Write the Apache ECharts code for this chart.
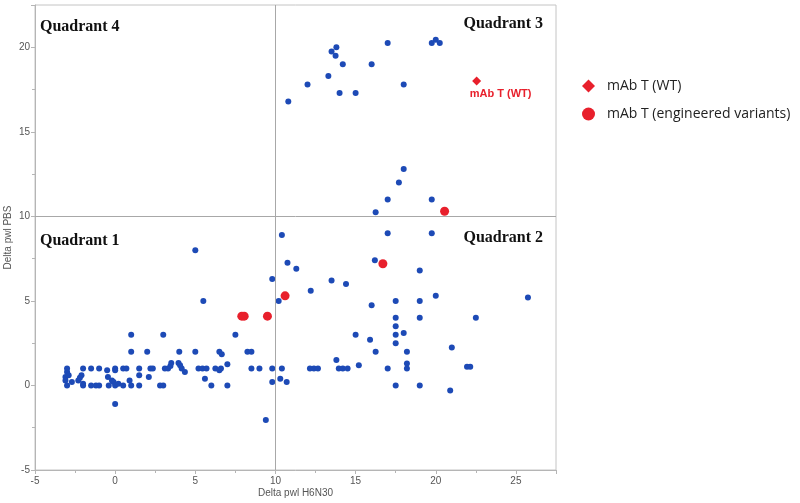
<!DOCTYPE html>
<html>
<head>
<meta charset="utf-8">
<script src="https://cdn.jsdelivr.net/npm/echarts@6/dist/echarts.min.js"></script>
<style>html,body{margin:0;padding:0;background:#fff;}#chart{width:800px;height:503px;}</style>
</head>
<body>
<div id="chart"></div>
<script>
// ---- data (Delta pwl H6N30, Delta pwl PBS) ----
const xTicks = [-5, 0, 5, 10, 15, 20, 25];
const yTicks = [-5, 0, 5, 10, 15, 20];
const quadrantNames = ['Quadrant 1', 'Quadrant 2', 'Quadrant 3', 'Quadrant 4'];
const quadrantSplit = [10, 10];

const quadrant1Points = [
  [-3, 1.0], [-3, 0.8], [-3.1, 0.5], [-3.1, 0.3], [-3, 0], [-2.9, 0.6], [-2.7, 0.2],
  [-2.3, 0.3], [-2.2, 0.45], [-2.1, 0.6], [-2, 1.0], [-2, 0.1], [-2, 0],
  [-1.5, 1.0], [-1.5, 0], [-1.2, 0], [-1, 1.0], [-1, 0],
  [-0.5, 0.9], [-0.45, 0.5], [-0.4, 0], [-0.2, 0.3], [-0.1, 0.2], [0, 1.0], [0, 0.9], [0, 0], [0, -1.1], [0.2, 0.1],
  [0.5, 1.0], [0.7, 1.0], [0.5, 0], [0.9, 0.3], [1, 3], [1, 2], [1, 0], [1.5, 1.0], [1.5, 0.6], [1.5, 0],
  [2, 2], [2.1, 0.5], [2.2, 1.0], [2.35, 1.0], [2.8, 0], [3, 0], [3, 3], [3.1, 1.0], [3.3, 1.0],
  [3.45, 1.15], [3.5, 1.33], [3.95, 1.33], [4.05, 1.2], [4.15, 1.0], [4.35, 0.8], [4, 2],
  [5, 2], [5, 8], [5.5, 5], [5.2, 1], [5.45, 1], [5.7, 1], [5.6, 0.4], [6, 0], [6.25, 1],
  [6.5, 0.9], [6.6, 1.0], [6.5, 2], [6.65, 1.85], [7, 1.25], [7, 0], [7.5, 3],
  [8.25, 2], [8.5, 2], [8.5, 1], [9, 1], [9.4, -2.05], [9.8, 6.3], [9.8, 1], [9.8, 0.2]
];
const quadrant2Points = [
  [10.4, 1], [10.3, 0.4], [10.7, 0.2], [10.2, 5], [10.4, 8.9], [10.75, 7.25], [11.3, 6.9],
  [12.2, 5.6], [12.15, 1], [12.4, 1], [12.65, 1], [13.5, 6.2], [13.8, 1.5], [13.95, 1], [14.2, 1], [14.5, 1],
  [14.4, 6], [15, 3], [15.2, 1.2], [15.9, 2.7], [16, 4.75], [16.2, 7.4], [16.25, 2], [17, 1], [17, 9],
  [17.5, 5], [17.5, 4], [17.5, 3.5], [17.5, 3], [17.5, 2.5], [17.5, 0], [18, 3.1], [18.2, 2], [18.2, 1.3], [18.2, 1],
  [19, 6.8], [19, 5], [19, 4], [19, 0], [19.75, 9], [20, 5.3], [20.9, -0.3], [21, 2.25],
  [21.95, 1.1], [22.15, 1.1], [22.5, 4], [25.75, 5.2]
];
const quadrant3Points = [
  [16.25, 10.25], [17, 11], [17.7, 12], [18, 12.8], [19.75, 11],
  [10.8, 16.8], [12, 17.8], [13.3, 18.3], [13.5, 19.75], [13.8, 20], [13.75, 19.5], [14.2, 19],
  [14, 17.3], [15, 17.3], [16, 19], [17, 20.25], [18, 17.8], [19.75, 20.25], [20, 20.45], [20.25, 20.25]
];
const wtName = 'mAb T (WT)';
const wtPoints = [[22.55, 18]];
const variantName = 'mAb T (engineered variants)';
const variantPoints = [[7.9, 4.1], [8.05, 4.1], [9.5, 4.1], [10.6, 5.3], [16.7, 7.2], [20.55, 10.3]];

// ---- chart ----
const blue = '#1d4ab6';
const red = '#e8202c';
const chart = echarts.init(document.getElementById('chart'), null, { renderer: 'canvas' });
const qFont = { fontFamily: 'Liberation Serif', fontWeight: 'bold', fontSize: 16, fill: '#111' };

const option = {
  animation: false,
  backgroundColor: '#fff',
  grid: { left: 35, right: 244, top: 5, bottom: 33, show: true, borderColor: '#c4c4c4', borderWidth: 1,
    containLabel: false, outerBoundsMode: 'none' },
  xAxis: {
    type: 'value', min: -5, max: 27.5, interval: 5,
    name: 'Delta pwl H6N30', nameLocation: 'middle', nameGap: 18, nameMoveOverlap: false,
    nameTextStyle: { color: '#555', fontSize: 10, fontFamily: 'Liberation Sans' },
    axisLine: { show: true, onZero: false, lineStyle: { color: '#b5b5b5' } },
    axisTick: { show: true, length: 4, lineStyle: { color: '#b5b5b5' } },
    minorTick: { show: true, splitNumber: 2, length: 3, lineStyle: { color: '#b5b5b5' } },
    splitLine: { show: false },
    axisLabel: { color: '#555', fontSize: 10, fontFamily: 'Liberation Sans', margin: 6,
      formatter: v => xTicks.includes(v) ? String(v) : '' }
  },
  yAxis: {
    type: 'value', min: -5, max: 22.5, interval: 5,
    name: 'Delta pwl PBS', nameLocation: 'middle', nameGap: 22, nameMoveOverlap: false,
    nameTextStyle: { color: '#555', fontSize: 10, fontFamily: 'Liberation Sans' },
    axisLine: { show: true, onZero: false, lineStyle: { color: '#b5b5b5' } },
    axisTick: { show: true, length: 4, lineStyle: { color: '#b5b5b5' } },
    minorTick: { show: true, splitNumber: 2, length: 3, lineStyle: { color: '#b5b5b5' } },
    splitLine: { show: false },
    axisLabel: { color: '#555', fontSize: 10, fontFamily: 'Liberation Sans', margin: 5,
      formatter: v => yTicks.includes(v) ? String(v) : '' }
  },
  legend: {
    orient: 'vertical', left: 577, top: 74, itemGap: 14, itemWidth: 13, itemHeight: 13,
    itemStyle: { opacity: 1 },
    data: [{ name: wtName, icon: 'diamond' }, { name: variantName, icon: 'circle' }],
    textStyle: { fontSize: 14, color: '#222', fontFamily: 'Open Sans', padding: [0, 0, 0, 7], lineHeight: 14 }
  },
  graphic: [
    { type: 'text', left: 40, top: 19, style: Object.assign({ text: quadrantNames[3] }, qFont) },
    { type: 'text', right: 257, top: 16, style: Object.assign({ text: quadrantNames[2] }, qFont) },
    { type: 'text', left: 40, top: 233, style: Object.assign({ text: quadrantNames[0] }, qFont) },
    { type: 'text', right: 257, top: 230, style: Object.assign({ text: quadrantNames[1] }, qFont) }
  ],
  series: [
    {
      name: 'other', type: 'scatter', symbolSize: 6, itemStyle: { color: blue, opacity: 1 },
      data: quadrant1Points.concat(quadrant2Points, quadrant3Points), z: 3,
      markLine: {
        silent: true, symbol: 'none', animation: false,
        lineStyle: { color: '#a8a8a8', width: 1, type: 'solid' }, label: { show: false },
        data: [{ xAxis: quadrantSplit[0] }, { yAxis: quadrantSplit[1] }]
      }
    },
    {
      name: variantName, type: 'scatter', symbol: 'circle', symbolSize: 9,
      itemStyle: { color: red, opacity: 1 }, data: variantPoints, z: 4
    },
    {
      name: wtName, type: 'scatter', symbol: 'diamond', symbolSize: 9,
      itemStyle: { color: red, opacity: 1 }, data: wtPoints, z: 4,
      label: { show: true, position: 'bottom', offset: [24, -2], formatter: wtName,
        color: red, fontSize: 11, fontWeight: 'bold', fontFamily: 'Liberation Sans' }
    }
  ]
};
chart.setOption(option);
</script>
</body>
</html>
